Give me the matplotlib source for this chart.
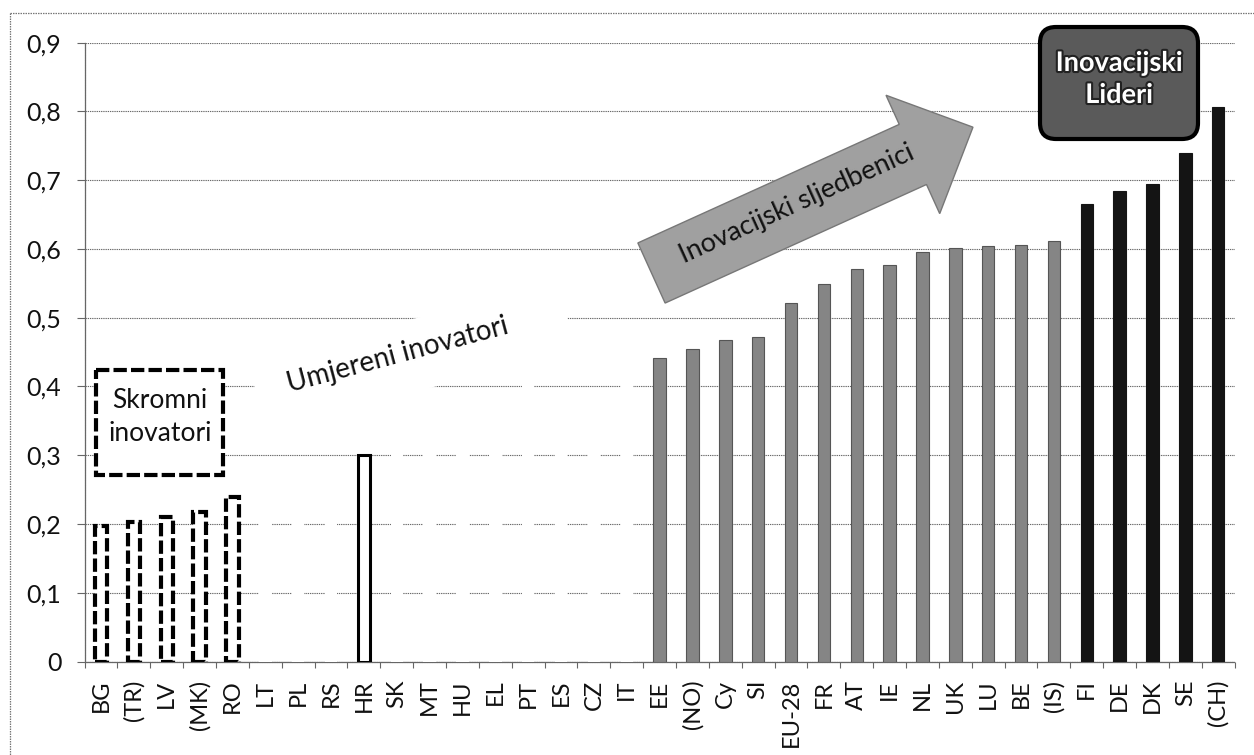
import matplotlib
matplotlib.use("Agg")
import matplotlib.pyplot as plt
import numpy as np
import matplotlib.transforms as mtransforms
import matplotlib.patheffects as pe
from matplotlib.patches import Rectangle, Polygon, FancyBboxPatch
from matplotlib.lines import Line2D

plt.rcParams["font.family"] = ["Lato", "DejaVu Sans"]

# --- data -------------------------------------------------------------
categories = ["BG", "(TR)", "LV", "(MK)", "RO", "LT", "PL", "RS", "HR", "SK",
              "MT", "HU", "EL", "PT", "ES", "CZ", "IT", "EE", "(NO)", "Cy",
              "SI", "EU-28", "FR", "AT", "IE", "NL", "UK", "LU", "BE", "(IS)",
              "FI", "DE", "DK", "SE", "(CH)"]
values = [0.197, 0.203, 0.210, 0.217, 0.239, 0.280, 0.275, 0.290, 0.300, 0.330,
          0.380, 0.350, 0.370, 0.410, 0.390, 0.390, 0.420, 0.442, 0.455, 0.467,
          0.472, 0.521, 0.549, 0.571, 0.577, 0.596, 0.601, 0.604, 0.606, 0.612,
          0.665, 0.684, 0.695, 0.739, 0.807]
groups = (["skromni"] * 5 + ["umjereni"] * 3 + ["hr"] + ["umjereni"] * 8
          + ["sljedbenici"] * 13 + ["lideri"] * 5)
y_ticks = [0, 0.1, 0.2, 0.3, 0.4, 0.5, 0.6, 0.7, 0.8, 0.9]
y_tick_labels = ["0", "0,1", "0,2", "0,3", "0,4", "0,5", "0,6", "0,7", "0,8", "0,9"]

# --- bar styles per group --------------------------------------------
styles = {
    "skromni": dict(facecolor="white", edgecolor="black", linewidth=3.0,
                    linestyle=(0, (3.2, 1.0))),
    "umjereni": dict(facecolor="white", edgecolor="none", linewidth=0),
    "hr": dict(facecolor="white", edgecolor="black", linewidth=2.2),
    "sljedbenici": dict(facecolor="#858585", edgecolor="#555555", linewidth=0.8),
    "lideri": dict(facecolor="#141414", edgecolor="#141414", linewidth=0.8),
}

W, H = 1254, 755
fig = plt.figure(figsize=(W / 100, H / 100), dpi=100)
fig.patch.set_facecolor("white")

ax_left, ax_right, ax_top, ax_bottom = 84.6, 1234.6, 42.7, 661.5
ax = fig.add_axes([ax_left / W, 1 - ax_bottom / H,
                   (ax_right - ax_left) / W, (ax_bottom - ax_top) / H])

x = np.arange(len(categories))
vals = np.array(values)
grp = np.array(groups)
for g, st in styles.items():
    m = grp == g
    ax.bar(x[m], vals[m], width=0.38, zorder=3, **st)

ax.set_xlim(-0.5, len(categories) - 0.5)
ax.set_ylim(0, 0.9)
ax.set_yticks(y_ticks)
ax.set_yticklabels(y_tick_labels)
ax.set_xticks(x)
ax.set_xticklabels(categories, rotation=90, va="top", ha="center")
ax.set_xticks(np.arange(-0.5, len(categories)), minor=True)

ax.set_axisbelow(True)
ax.yaxis.grid(True, color="#6a6a6a", linewidth=0.8, linestyle=(0, (1.2, 0.8)))
ax.xaxis.grid(False)

for s in ["top", "right"]:
    ax.spines[s].set_visible(False)
for s in ["left", "bottom"]:
    ax.spines[s].set_color("#666666")
    ax.spines[s].set_linewidth(0.9)
    ax.spines[s].set_linestyle((0, (1.2, 0.8)))

ax.tick_params(axis="y", which="major", length=5.8, width=0.8, color="#666666",
               labelsize=18, pad=11, labelcolor="#111111")
ax.tick_params(axis="x", which="major", length=0, labelsize=17, pad=13,
               labelcolor="#111111")
ax.tick_params(axis="x", which="minor", length=4.3, width=0.8, color="#666666")

# pixel-based transform for annotation shapes (origin top-left)
px = mtransforms.Affine2D().scale(1 / W, -1 / H).translate(0, 1) + fig.transFigure
up = mtransforms.Affine2D().scale(1 / W, 1 / H) + fig.transFigure

# figure frame (left and top edges)
fig.add_artist(Line2D([10, 10], [13, H], transform=px, color="#777777",
                      linewidth=0.9, linestyle=(0, (1.2, 0.8))))
fig.add_artist(Line2D([10, W], [13, 13], transform=px, color="#777777",
                      linewidth=0.9, linestyle=(0, (1.2, 0.8))))

# "Skromni inovatori" dashed box
fig.add_artist(Rectangle((96, 370), 127, 105, transform=px, facecolor="white",
                         edgecolor="black", linewidth=3.0,
                         linestyle=(0, (3.2, 1.0)), zorder=4))
fig.text(160, 417, "Skromni\ninovatori", transform=px, ha="center",
         va="center", fontsize=19, linespacing=1.4, color="#111111", zorder=5)

# "Umjereni inovatori" rotated white text box
angle = 15
cx, cy, bw, bh = 412, 356, 320, 71
box_tr = (mtransforms.Affine2D().translate(-bw / 2, -bh / 2)
          .rotate_deg(angle).translate(cx, H - cy) + up)
fig.add_artist(Rectangle((0, 0), bw, bh, transform=box_tr, facecolor="white",
                         edgecolor="none", zorder=4))
fig.text(398, 355, "Umjereni inovatori", transform=px, rotation=angle,
         rotation_mode="anchor", ha="center", va="center", fontsize=20,
         color="#111111", zorder=5)

# "Inovacijski sljedbenici" block arrow
a = np.deg2rad(24.4)
tx, ty = 651.5, H - 273
L, sh, hh, hl = 353, 33, 65, 66
u = np.array([np.cos(a), np.sin(a)])
n = np.array([-np.sin(a), np.cos(a)])
t = np.array([tx, ty])
pts = [t + sh * n, t + (L - hl) * u + sh * n, t + (L - hl) * u + hh * n,
       t + L * u, t + (L - hl) * u - hh * n, t + (L - hl) * u - sh * n,
       t - sh * n]
fig.add_artist(Polygon(pts, closed=True, transform=up, facecolor="#a0a0a0",
                       edgecolor="#777777", linewidth=1.0, zorder=4))
fig.text(797, 204, "Inovacijski sljedbenici", transform=px, rotation=24.4,
         rotation_mode="anchor", ha="center", va="center", fontsize=19.5,
         color="#111111", zorder=5)

# "Inovacijski Lideri" rounded box
fig.add_artist(FancyBboxPatch((1040, H - 139), 158, 112, transform=up,
                              boxstyle="round,pad=0,rounding_size=16",
                              facecolor="#5a5a5a", edgecolor="black",
                              linewidth=3.0, zorder=4))
fig.text(1119, 79, "Inovacijski\nLideri", transform=px, ha="center",
         va="center", fontsize=19.5, fontweight="bold", color="white",
         linespacing=1.4, zorder=5,
         path_effects=[pe.withStroke(linewidth=3, foreground="#222222")])

fig.savefig("out.png", dpi=100)
